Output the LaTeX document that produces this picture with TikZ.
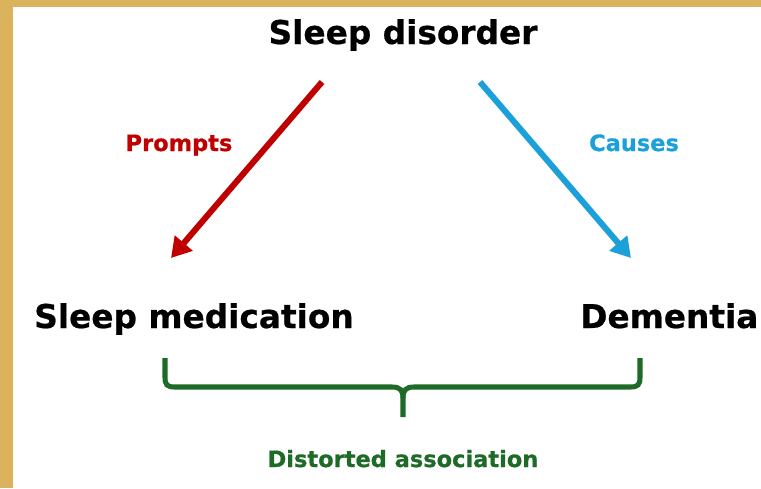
\documentclass[tikz,border=0pt]{standalone}
\usepackage{fontspec}
\setmainfont{DejaVu Sans}[BoldFeatures={FakeBold=0.6}]
\usetikzlibrary{arrows.meta}
\definecolor{framegold}{HTML}{DAB35C}
\definecolor{promptred}{HTML}{C00000}
\definecolor{causeblue}{HTML}{1CA0DA}
\definecolor{assocgreen}{HTML}{1E6B28}

\begin{document}
\begin{tikzpicture}[x=0.025cm,y=-0.025cm,
  term/.style={font=\fontsize{23.3}{27}\selectfont\bfseries, inner sep=0pt, anchor=base},
  tag/.style={font=\fontsize{16}{19}\selectfont\bfseries, inner sep=0pt, anchor=base},
  link/.style={line width=4.3pt, -{Triangle[length=14pt,width=16pt]}},
  bracket/.style={line width=3.6pt, assocgreen}]
\clip (0,0) rectangle (761,488);
\fill[framegold] (0,0) rectangle (761,488);
\fill[white] (13,7) rectangle (761,488);

\node[term] (disorder) at (403,44) {Sleep disorder};
\node[term] (medication) at (194,328) {Sleep medication};
\node[term, anchor=base west] (dementia) at (580,328) {Dementia};
\node[tag, promptred] (prompts) at (179,151) {Prompts};
\node[tag, causeblue] (causes) at (634,151) {Causes};
\node[tag, assocgreen] (distorted) at (403,467) {Distorted association};

\coordinate (rs) at (322,82);
\coordinate (re) at (171,258);
\coordinate (bs) at (480,82);
\coordinate (be) at (631,258);
\coordinate (bl) at (165,358);
\coordinate (br) at (640,358);
\coordinate (bt) at (403,417);

\path[draw,link,promptred] (rs) -- (re);
\path[draw,link,causeblue] (bs) -- (be);

\draw[bracket] (bl) -- (165,377) .. controls (165,385) and (167,387) .. (175,387)
  -- (392,387) .. controls (400,387) and (403,390) .. (403,398) -- (bt);
\draw[bracket] (br) -- (640,377) .. controls (640,385) and (638,387) .. (630,387)
  -- (414,387) .. controls (406,387) and (403,390) .. (403,398);
\end{tikzpicture}
\end{document}
